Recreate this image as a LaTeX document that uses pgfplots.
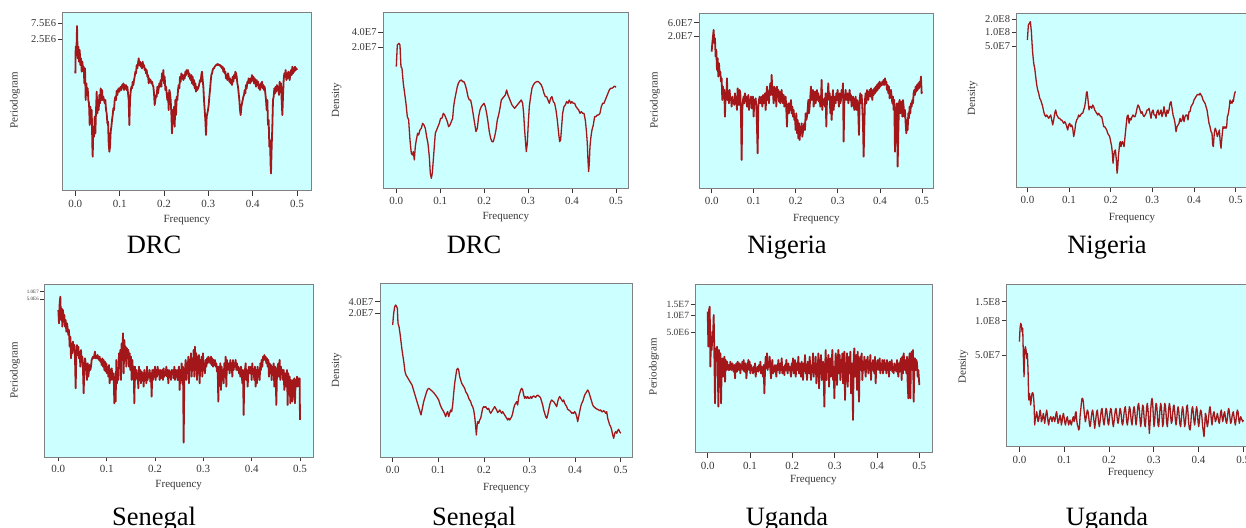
\documentclass[border=0pt]{standalone}
\usepackage{fontspec}
\setmainfont{Liberation Serif}
\usepackage{pgfplots}
\pgfplotsset{compat=1.18}
\definecolor{bgc}{RGB}{204,255,255}
\definecolor{framec}{RGB}{128,128,128}
\definecolor{linec}{RGB}{163,22,26}
\definecolor{txtc}{RGB}{55,55,55}
% y values are read in screen units (log scale of the original, labels kept as printed)
\pgfplotsset{
  panel/.style={
    scale only axis, y dir=reverse,
    axis background/.style={fill=bgc},
    axis line style={draw=framec, line width=0.9pt},
    tick align=outside, xtick pos=bottom, ytick pos=left,
    major tick length=5pt,
    tick style={draw=txtc, line width=0.7pt},
    xticklabels={0.0,0.1,0.2,0.3,0.4,0.5},
    xticklabel style={font=\fontsize{11}{11}\selectfont, text=txtc, inner sep=1.5pt, yshift=-2.5pt},
    yticklabel style={font=\fontsize{10.5}{11}\selectfont, text=txtc, inner sep=1.5pt},
    clip=true,
  },
  pgram/.style={draw=linec, line width=1.8pt, mark=none, line join=round},
  dens/.style={draw=linec, line width=1.3pt, mark=none, line join=round},
}
\begin{document}
\begin{tikzpicture}
\useasboundingbox (0,0) rectangle (1246pt,-527pt);
\clip (0,0) rectangle (1246pt,-527pt);

% ---------- DRC periodogram ----------
\begin{axis}[panel, at={(62.7pt,-12.7pt)}, anchor=north west,
  width=248.3pt, height=178pt, xmin=188, xmax=933, ymin=38, ymax=572,
  xtick={226,359,492,625,758,891},
  ytick={70,117}, yticklabels={7.5E6,2.5E6}]
\addplot[pgram] coordinates {(226,220)(227,140)(229,165)(231,78)(233,175)(235,140)(237,185)(239,150)(241,195)(243,175)(245,215)(247,185)(249,210)(251,200)(253,250)(255,205)(257,300)(259,250)(261,280)(263,265)(265,300)(267,310)(269,375)(271,320)(273,370)(275,330)(277,440)(278,470)(280,380)(282,410)(284,350)(286,400)(288,330)(290,275)(292,340)(294,300)(296,330)(298,285)(300,310)(302,265)(304,300)(306,270)(308,300)(310,290)(312,300)(314,310)(316,300)(318,330)(320,340)(322,370)(324,365)(326,430)(328,455)(330,440)(332,395)(334,380)(336,360)(338,345)(340,325)(342,330)(344,300)(346,290)(348,300)(350,272)(352,285)(354,270)(356,265)(358,275)(360,265)(362,260)(364,270)(366,255)(368,260)(370,250)(372,270)(374,255)(376,265)(378,255)(380,270)(382,260)(384,280)(386,300)(388,375)(390,300)(392,275)(394,260)(396,265)(398,245)(400,255)(402,240)(404,230)(406,215)(408,220)(410,195)(412,205)(414,190)(416,175)(418,195)(420,185)(422,200)(424,190)(426,205)(428,185)(430,200)(432,195)(434,210)(436,205)(438,220)(440,210)(442,230)(444,225)(446,250)(448,235)(450,245)(452,240)(454,250)(456,245)(458,255)(460,260)(462,280)(464,315)(466,300)(468,285)(470,290)(472,260)(474,280)(476,265)(478,250)(480,260)(482,240)(484,260)(486,220)(488,240)(490,210)(492,250)(494,230)(496,270)(498,260)(500,280)(502,300)(504,280)(506,330)(508,270)(510,280)(512,300)(514,340)(516,400)(518,330)(520,370)(522,320)(524,380)(526,300)(528,345)(530,290)(532,300)(534,270)(536,255)(538,265)(540,230)(542,245)(544,220)(546,235)(548,225)(550,240)(552,225)(554,235)(556,215)(558,225)(560,210)(562,220)(564,210)(566,230)(568,220)(570,235)(572,240)(574,225)(576,250)(578,230)(580,255)(582,240)(584,265)(586,250)(588,275)(590,260)(592,270)(594,265)(596,260)(598,250)(600,240)(602,245)(604,225)(606,215)(608,240)(610,260)(612,300)(614,330)(616,360)(618,405)(620,350)(622,340)(624,330)(626,315)(628,290)(630,270)(632,245)(634,225)(636,220)(638,210)(640,205)(642,205)(644,200)(646,198)(648,195)(650,195)(652,192)(654,195)(656,193)(658,196)(660,195)(662,200)(664,198)(666,205)(668,200)(670,215)(672,205)(674,220)(676,215)(678,235)(680,225)(682,240)(684,220)(686,230)(688,245)(690,235)(692,250)(694,240)(696,255)(698,230)(700,245)(702,225)(704,235)(706,215)(708,220)(710,230)(712,250)(714,260)(716,280)(718,300)(720,330)(722,345)(724,320)(726,310)(728,300)(730,290)(732,285)(734,270)(736,280)(738,255)(740,265)(742,245)(744,250)(746,235)(748,240)(750,250)(752,235)(754,245)(756,225)(758,240)(760,230)(762,250)(764,235)(766,245)(768,260)(770,240)(772,255)(774,245)(776,265)(778,255)(780,270)(782,250)(784,260)(786,245)(788,265)(790,255)(792,270)(794,260)(796,280)(798,300)(800,330)(802,300)(804,375)(806,360)(808,440)(810,420)(812,500)(813,520)(815,440)(817,380)(819,300)(821,290)(823,265)(825,280)(827,260)(829,275)(831,255)(833,270)(835,260)(837,285)(839,245)(841,270)(843,250)(845,300)(847,345)(849,290)(851,240)(853,220)(855,230)(857,210)(859,240)(861,220)(863,235)(865,215)(867,225)(869,240)(871,220)(873,210)(875,225)(877,200)(879,220)(881,205)(883,215)(885,200)(887,210)(889,205)(891,210)};
\end{axis}

% ---------- DRC density ----------
\begin{axis}[panel, at={(383.3pt,-12.3pt)}, anchor=north west,
  width=245pt, height=176pt, xmin=190, xmax=925, ymin=37, ymax=565,
  xtick={229,360.8,492.6,624.4,756.2,888},
  ytick={97,142}, yticklabels={4.0E7,2.0E7}]
\addplot[dens] coordinates {(229,200)(232,135)(237,130)(240,135)(243,200)(246,205)(250,250)(254,280)(258,310)(262,350)(266,360)(270,420)(274,460)(277,465)(280,455)(283,480)(286,440)(289,420)(293,400)(296,405)(300,390)(304,385)(308,370)(312,375)(316,385)(320,410)(324,430)(328,470)(331,520)(334,535)(337,520)(340,480)(343,440)(346,400)(350,390)(354,380)(358,370)(362,355)(366,355)(370,340)(374,345)(378,355)(382,365)(386,380)(390,375)(394,365)(398,355)(401,320)(404,300)(408,280)(412,260)(416,248)(420,242)(424,240)(428,245)(432,245)(436,255)(440,270)(444,290)(448,300)(452,300)(456,320)(460,345)(464,370)(468,395)(472,385)(476,350)(480,330)(484,320)(488,315)(492,310)(496,320)(500,340)(504,365)(508,395)(512,415)(516,425)(520,425)(524,410)(528,390)(532,360)(536,345)(540,325)(544,300)(548,295)(552,290)(556,285)(560,270)(564,285)(568,295)(572,305)(576,315)(580,320)(584,325)(588,320)(592,315)(596,310)(600,305)(604,300)(608,310)(611,340)(614,390)(617,430)(619,455)(622,430)(625,370)(628,320)(632,290)(636,265)(640,255)(645,248)(650,245)(655,245)(660,250)(664,255)(668,265)(672,280)(676,290)(680,290)(684,300)(688,310)(692,295)(696,290)(700,305)(704,310)(708,330)(712,360)(716,400)(719,425)(722,420)(725,380)(728,340)(732,320)(736,315)(740,305)(744,310)(748,300)(752,310)(756,305)(760,310)(764,310)(768,320)(772,325)(776,330)(780,340)(784,335)(788,340)(792,340)(796,360)(799,390)(802,430)(804,480)(806,515)(808,490)(810,440)(813,410)(816,390)(820,375)(824,350)(828,350)(832,345)(836,345)(840,340)(844,320)(848,310)(852,310)(856,300)(860,290)(864,280)(868,270)(872,265)(876,265)(880,262)(884,258)(888,262)};
\end{axis}

% ---------- Nigeria periodogram ----------
\begin{axis}[panel, at={(699.3pt,-13.3pt)}, anchor=north west,
  width=234pt, height=175pt, xmin=178, xmax=880, ymin=40, ymax=565,
  xtick={215,341.2,467.4,593.6,719.8,846},
  ytick={68,108}, yticklabels={6.0E7,2.0E7}]
\addplot[pgram] coordinates {(215,155)(217,130)(219,110)(221,90)(223,130)(225,115)(227,170)(229,150)(231,210)(233,175)(235,230)(237,190)(239,220)(241,215)(243,245)(245,235)(247,300)(249,260)(251,280)(253,270)(255,350)(257,280)(259,300)(261,235)(263,300)(265,285)(267,310)(269,270)(271,300)(273,295)(275,320)(277,290)(279,310)(281,300)(283,315)(285,280)(287,305)(289,300)(291,330)(293,265)(295,300)(297,315)(299,270)(301,280)(303,350)(305,480)(307,330)(309,300)(311,290)(313,310)(315,280)(317,300)(319,290)(321,320)(323,305)(325,285)(327,330)(329,300)(331,310)(333,290)(335,325)(337,310)(339,290)(341,350)(343,300)(345,310)(347,295)(349,320)(351,380)(353,460)(355,320)(357,300)(359,290)(361,310)(363,300)(365,290)(367,320)(369,285)(371,310)(373,300)(375,280)(377,330)(379,290)(381,260)(383,300)(385,275)(387,310)(389,270)(391,250)(393,285)(395,225)(397,270)(399,280)(401,310)(403,260)(405,300)(407,265)(409,320)(411,260)(413,290)(415,270)(417,305)(419,275)(421,310)(423,295)(425,270)(427,300)(429,310)(431,285)(433,320)(435,300)(437,290)(439,330)(441,380)(443,320)(445,310)(447,340)(449,310)(451,330)(453,300)(455,340)(457,320)(459,350)(461,330)(463,360)(465,350)(467,390)(469,340)(471,400)(473,360)(475,415)(477,370)(479,420)(481,380)(483,400)(485,370)(487,410)(489,395)(491,380)(493,370)(495,390)(497,340)(499,360)(501,350)(503,330)(505,300)(507,340)(509,320)(511,290)(513,260)(515,300)(517,290)(519,270)(521,320)(523,300)(525,275)(527,310)(529,290)(531,270)(533,300)(535,280)(537,305)(539,290)(541,320)(543,300)(545,240)(547,330)(549,300)(551,310)(553,295)(555,320)(557,280)(559,380)(561,300)(563,290)(565,250)(567,300)(569,280)(571,340)(573,290)(575,360)(577,310)(579,270)(581,330)(583,300)(585,290)(587,310)(589,280)(591,300)(593,270)(595,300)(597,320)(599,280)(601,310)(603,300)(605,270)(607,290)(609,250)(611,425)(613,310)(615,290)(617,270)(619,300)(621,290)(623,280)(625,310)(627,295)(629,270)(631,300)(633,285)(635,320)(637,300)(639,290)(641,310)(643,330)(645,300)(647,290)(649,330)(651,300)(653,310)(655,340)(657,405)(659,300)(661,280)(663,310)(665,285)(667,320)(669,370)(671,470)(673,380)(675,300)(677,280)(679,310)(681,270)(683,290)(685,300)(687,280)(689,270)(691,290)(693,265)(695,280)(697,300)(699,270)(701,285)(703,265)(705,280)(707,260)(709,275)(711,255)(713,270)(715,250)(717,265)(719,245)(721,260)(723,250)(725,255)(727,245)(729,255)(731,240)(733,255)(735,235)(737,250)(739,245)(741,270)(743,255)(745,280)(747,260)(749,295)(751,275)(753,270)(755,290)(757,310)(759,290)(761,330)(763,300)(765,455)(767,370)(769,330)(771,310)(773,500)(775,400)(777,310)(779,300)(781,340)(783,320)(785,305)(787,350)(789,300)(791,320)(793,350)(795,330)(797,370)(799,400)(801,360)(803,390)(805,340)(807,355)(809,320)(811,340)(813,310)(815,320)(817,300)(819,310)(821,280)(823,270)(825,285)(827,260)(829,275)(831,255)(833,270)(835,250)(837,265)(839,245)(841,260)(843,230)(845,280)(846,275)};
\end{axis}

% ---------- Nigeria density ----------
\begin{axis}[panel, at={(1016.7pt,-13.3pt)}, anchor=north west,
  width=231.3pt, height=174pt, xmin=230, xmax=924, ymin=40, ymax=562,
  xtick={262,387,512,637,762,887},
  ytick={57,97,138}, yticklabels={2.0E8,1.0E8,5.0E7}]
\addplot[dens] coordinates {(262,120)(265,75)(268,70)(271,65)(274,95)(276,130)(278,160)(281,190)(284,205)(287,230)(290,255)(293,270)(296,280)(299,295)(302,300)(305,310)(308,320)(311,335)(314,345)(317,350)(320,345)(323,350)(326,355)(329,350)(332,345)(335,360)(338,375)(341,360)(344,340)(347,330)(350,345)(353,350)(356,355)(359,355)(362,360)(365,360)(368,365)(371,370)(374,365)(377,370)(380,380)(383,390)(386,375)(389,370)(392,380)(395,375)(398,385)(401,410)(404,395)(407,370)(410,360)(413,355)(416,345)(419,350)(422,345)(425,340)(428,340)(431,330)(434,320)(437,300)(439,280)(441,275)(443,290)(445,310)(447,330)(449,320)(452,320)(455,325)(458,315)(461,320)(464,330)(467,335)(470,340)(473,345)(476,340)(479,345)(482,350)(485,350)(488,365)(491,380)(494,380)(497,385)(500,390)(503,400)(506,405)(509,410)(512,425)(515,440)(517,460)(519,490)(521,470)(523,455)(526,450)(529,480)(531,520)(533,505)(535,470)(537,450)(539,430)(541,425)(543,440)(545,430)(547,425)(549,430)(552,440)(555,410)(558,380)(561,350)(564,345)(567,370)(570,355)(573,360)(576,350)(579,345)(582,350)(585,350)(588,340)(591,325)(594,315)(597,320)(600,330)(603,340)(606,335)(609,345)(612,350)(615,345)(618,340)(621,330)(624,330)(627,325)(630,340)(633,355)(636,335)(639,330)(642,345)(645,345)(648,355)(651,335)(654,330)(657,345)(660,340)(663,330)(666,350)(669,340)(672,320)(675,340)(678,350)(681,330)(684,340)(687,330)(690,310)(693,305)(696,325)(699,345)(702,355)(705,370)(708,395)(711,380)(714,375)(717,370)(720,355)(723,365)(726,360)(729,345)(732,365)(735,350)(738,345)(741,345)(744,360)(747,335)(750,335)(753,320)(756,315)(759,310)(762,300)(765,295)(768,290)(771,285)(774,283)(777,285)(780,280)(783,285)(786,290)(789,300)(792,305)(795,310)(798,320)(801,330)(804,350)(807,370)(810,380)(813,395)(816,400)(818,435)(820,440)(822,410)(824,390)(826,385)(829,395)(832,410)(835,400)(838,390)(841,430)(843,445)(845,420)(847,400)(849,380)(852,385)(855,380)(858,385)(860,380)(862,350)(864,345)(866,335)(868,320)(870,300)(872,310)(874,305)(876,310)(878,300)(880,305)(882,290)(884,280)(886,275)(887,275)};
\end{axis}

% ---------- Senegal periodogram ----------
\begin{axis}[panel, at={(44pt,-284pt)}, anchor=north west,
  width=269.3pt, height=173.3pt, xmin=132, xmax=940, ymin=42, ymax=562,
  xtick={175,320,465,610,755,900},
  ytick={65,88}, yticklabels={1.0E7,5.0E6},
  yticklabel style={font=\fontsize{5}{5}\selectfont, inner sep=1pt},
  major tick length=4pt]
\addplot[pgram] coordinates {(175,120)(177,160)(179,100)(181,80)(183,150)(185,115)(187,170)(189,120)(191,155)(193,135)(195,170)(197,150)(199,185)(201,160)(203,175)(205,195)(207,180)(209,230)(211,200)(213,265)(215,220)(217,250)(219,215)(221,240)(223,225)(225,265)(227,355)(229,250)(231,225)(233,255)(235,230)(237,265)(239,245)(241,290)(243,240)(245,270)(247,260)(249,300)(251,370)(253,290)(255,265)(257,280)(259,300)(261,330)(263,280)(265,320)(267,300)(269,285)(271,300)(273,290)(275,270)(277,265)(279,260)(281,265)(283,255)(285,245)(287,265)(289,260)(291,265)(293,255)(295,265)(297,270)(299,260)(301,275)(303,270)(305,285)(307,265)(309,290)(311,270)(313,300)(315,275)(317,305)(319,280)(321,310)(323,290)(325,320)(327,285)(329,340)(331,300)(333,330)(335,295)(337,315)(339,330)(341,310)(343,400)(345,320)(347,395)(349,270)(351,340)(353,300)(355,330)(357,250)(359,290)(361,240)(363,330)(365,220)(367,270)(369,190)(371,310)(373,210)(375,245)(377,230)(379,290)(381,235)(383,260)(385,240)(387,290)(389,250)(391,300)(393,260)(395,330)(397,270)(399,310)(401,290)(403,400)(405,290)(407,330)(409,300)(411,320)(413,310)(415,355)(417,290)(419,330)(421,300)(423,340)(425,305)(427,325)(429,310)(431,350)(433,300)(435,330)(437,310)(439,340)(441,290)(443,330)(445,310)(447,320)(449,300)(451,335)(453,310)(455,380)(457,300)(459,330)(461,300)(463,320)(465,290)(467,330)(469,300)(471,320)(473,290)(475,310)(477,300)(479,330)(481,300)(483,325)(485,310)(487,300)(489,330)(491,295)(493,320)(495,305)(497,315)(499,290)(501,320)(503,300)(505,340)(507,300)(509,320)(511,305)(513,330)(515,300)(517,310)(519,300)(521,325)(523,290)(525,330)(527,300)(529,320)(531,300)(533,330)(535,310)(537,290)(539,360)(541,300)(543,330)(545,280)(547,340)(549,290)(551,518)(553,330)(555,300)(557,270)(559,330)(561,280)(563,310)(565,260)(567,340)(569,270)(571,300)(573,250)(575,320)(577,270)(579,300)(581,240)(583,320)(585,230)(587,300)(589,250)(591,330)(593,260)(595,310)(597,255)(599,340)(601,270)(603,300)(605,260)(607,320)(609,250)(611,300)(613,280)(615,310)(617,270)(619,290)(621,265)(623,280)(625,260)(627,275)(629,265)(631,280)(633,260)(635,285)(637,265)(639,290)(641,270)(643,285)(645,270)(647,290)(649,280)(651,305)(653,290)(655,395)(657,290)(659,320)(661,280)(663,360)(665,290)(667,330)(669,300)(671,340)(673,280)(675,320)(677,260)(679,350)(681,270)(683,300)(685,290)(687,280)(689,310)(691,270)(693,300)(695,280)(697,320)(699,270)(701,300)(703,280)(705,290)(707,270)(709,300)(711,280)(713,300)(715,290)(717,310)(719,295)(721,320)(723,290)(725,305)(727,340)(729,300)(731,435)(733,320)(735,300)(737,280)(739,330)(741,300)(743,350)(745,310)(747,290)(749,310)(751,300)(753,290)(755,330)(757,280)(759,310)(761,300)(763,330)(765,290)(767,350)(769,300)(771,340)(773,290)(775,320)(777,300)(779,330)(781,280)(783,300)(785,270)(787,290)(789,260)(791,270)(793,255)(795,270)(797,260)(799,280)(801,265)(803,290)(805,270)(807,320)(809,280)(811,300)(813,285)(815,330)(817,290)(819,310)(821,280)(823,350)(825,290)(827,300)(829,405)(831,310)(833,290)(835,280)(837,320)(839,270)(841,330)(843,290)(845,310)(847,300)(849,330)(851,300)(853,360)(855,310)(857,330)(859,350)(861,300)(863,405)(865,310)(867,370)(869,320)(871,400)(873,330)(875,350)(877,395)(879,330)(881,380)(883,325)(885,400)(887,330)(889,350)(891,320)(893,350)(895,325)(897,340)(899,325)(900,450)};
\end{axis}

% ---------- Senegal density ----------
\begin{axis}[panel, at={(380pt,-283.3pt)}, anchor=north west,
  width=252.7pt, height=174pt, xmin=180, xmax=938, ymin=40, ymax=562,
  xtick={218,354.8,491.6,628.4,765.2,902},
  ytick={95,130}, yticklabels={4.0E7,2.0E7}]
\addplot[dens] coordinates {(218,165)(221,130)(224,110)(227,105)(230,110)(232,115)(234,160)(237,170)(240,190)(243,215)(246,240)(249,260)(252,280)(255,305)(258,315)(261,320)(264,325)(267,330)(270,335)(273,340)(276,345)(279,355)(282,365)(285,375)(288,385)(291,395)(294,405)(297,415)(300,425)(303,435)(305,425)(308,410)(311,395)(314,385)(317,375)(320,365)(323,358)(326,355)(329,357)(332,360)(335,362)(338,365)(341,368)(344,372)(347,376)(350,380)(353,385)(356,390)(359,400)(362,408)(365,415)(368,420)(371,425)(374,432)(377,440)(380,430)(383,425)(386,440)(389,430)(392,420)(395,425)(398,405)(401,370)(404,340)(407,320)(410,300)(413,295)(416,300)(419,320)(422,330)(425,340)(428,345)(431,350)(434,355)(437,365)(440,370)(443,375)(446,385)(449,390)(452,395)(455,405)(458,410)(461,420)(464,440)(467,470)(469,495)(471,470)(473,455)(476,460)(479,450)(482,445)(485,430)(488,415)(491,410)(494,412)(497,410)(500,415)(503,418)(506,415)(509,425)(512,430)(515,425)(518,420)(521,415)(524,410)(527,415)(530,420)(533,428)(536,425)(539,420)(542,425)(545,430)(548,425)(551,430)(554,435)(557,440)(560,445)(563,450)(566,445)(569,450)(572,445)(575,440)(578,430)(581,415)(584,405)(587,400)(590,395)(593,405)(596,380)(599,370)(602,360)(605,355)(608,360)(611,375)(614,385)(617,380)(620,385)(623,380)(626,385)(629,385)(632,380)(635,385)(638,380)(641,378)(644,380)(647,382)(650,378)(653,375)(656,378)(659,380)(662,385)(665,395)(668,405)(671,420)(674,430)(677,440)(680,445)(683,435)(686,420)(689,405)(692,395)(695,390)(698,393)(701,395)(704,400)(707,405)(710,410)(713,395)(716,385)(719,380)(722,385)(725,390)(728,395)(731,390)(734,400)(737,405)(740,410)(743,418)(746,420)(749,422)(752,425)(755,430)(758,428)(761,430)(764,425)(767,430)(770,440)(773,455)(776,440)(779,425)(782,410)(785,400)(788,395)(791,385)(794,375)(797,370)(800,365)(803,360)(806,365)(809,375)(812,385)(815,395)(818,405)(821,410)(824,412)(827,415)(830,417)(833,418)(836,420)(839,422)(842,420)(845,425)(848,425)(851,422)(854,425)(857,430)(860,425)(863,445)(866,455)(869,465)(872,470)(875,480)(878,495)(881,505)(884,490)(887,485)(890,490)(893,482)(896,478)(899,485)(902,490)};
\end{axis}

% ---------- Uganda periodogram ----------
\begin{axis}[panel, at={(695.7pt,-284pt)}, anchor=north west,
  width=236.3pt, height=168.7pt, xmin=167, xmax=876, ymin=42, ymax=548,
  xtick={203,330,457,584,711,838},
  ytick={104,136,187}, yticklabels={1.5E7,1.0E7,5.0E6},
  yticklabel style={font=\fontsize{9.5}{10}\selectfont}]
\addplot[pgram] coordinates {(203,125)(205,230)(207,120)(209,110)(211,290)(213,200)(215,240)(217,185)(219,200)(221,135)(223,260)(225,400)(227,235)(229,255)(231,230)(233,280)(235,410)(237,240)(239,300)(241,250)(243,400)(245,290)(247,265)(249,320)(251,280)(253,260)(255,335)(257,270)(259,300)(261,275)(263,290)(265,300)(267,285)(269,300)(271,275)(273,290)(275,300)(277,280)(279,295)(281,305)(283,285)(285,325)(287,290)(289,280)(291,305)(293,275)(295,290)(297,300)(299,280)(301,310)(303,285)(305,295)(307,275)(309,300)(311,270)(313,305)(315,290)(317,280)(319,325)(321,300)(323,290)(325,270)(327,300)(329,275)(331,310)(333,285)(335,300)(337,295)(339,310)(341,290)(343,305)(345,280)(347,320)(349,295)(351,300)(353,290)(355,305)(357,285)(359,300)(361,275)(363,310)(365,290)(367,300)(369,320)(371,285)(373,370)(375,300)(377,260)(379,295)(381,250)(383,300)(385,275)(387,290)(389,260)(391,300)(393,325)(395,285)(397,270)(399,310)(401,290)(403,305)(405,285)(407,300)(409,320)(411,285)(413,300)(415,270)(417,295)(419,310)(421,280)(423,300)(425,265)(427,310)(429,290)(431,300)(433,315)(435,285)(437,300)(439,270)(441,300)(443,310)(445,280)(447,300)(449,290)(451,305)(453,320)(455,280)(457,300)(459,265)(461,310)(463,295)(465,270)(467,320)(469,295)(471,280)(473,300)(475,260)(477,310)(479,280)(481,300)(483,320)(485,275)(487,295)(489,330)(491,280)(493,300)(495,255)(497,310)(499,285)(501,330)(503,275)(505,295)(507,310)(509,260)(511,300)(513,330)(515,285)(517,295)(519,250)(521,320)(523,280)(525,300)(527,260)(529,340)(531,290)(533,310)(535,250)(537,355)(539,270)(541,290)(543,255)(545,330)(547,295)(549,275)(551,310)(553,410)(555,300)(557,240)(559,330)(561,270)(563,290)(565,255)(567,350)(569,290)(571,265)(573,320)(575,280)(577,240)(579,330)(581,290)(583,385)(585,300)(587,250)(589,280)(591,345)(593,280)(595,240)(597,310)(599,255)(601,330)(603,270)(605,300)(607,250)(609,340)(611,265)(613,245)(615,390)(617,280)(619,300)(621,250)(623,350)(625,290)(627,260)(629,310)(631,245)(633,370)(635,280)(637,300)(639,450)(641,260)(643,235)(645,320)(647,270)(649,255)(651,360)(653,245)(655,300)(657,395)(659,270)(661,260)(663,300)(665,250)(667,330)(669,280)(671,300)(673,260)(675,290)(677,320)(679,270)(681,295)(683,260)(685,310)(687,280)(689,300)(691,255)(693,330)(695,280)(697,300)(699,270)(701,295)(703,310)(705,260)(707,340)(709,280)(711,300)(713,270)(715,290)(717,300)(719,265)(721,310)(723,285)(725,300)(727,270)(729,310)(731,290)(733,270)(735,300)(737,280)(739,310)(741,270)(743,300)(745,280)(747,320)(749,275)(751,300)(753,290)(755,270)(757,305)(759,290)(761,310)(763,280)(765,300)(767,285)(769,305)(771,270)(773,300)(775,320)(777,280)(779,305)(781,275)(783,265)(785,330)(787,260)(789,310)(791,250)(793,280)(795,300)(797,270)(799,310)(801,260)(803,340)(805,385)(807,270)(809,250)(811,385)(813,270)(815,245)(817,300)(819,240)(821,395)(823,290)(825,265)(827,300)(829,270)(831,280)(833,320)(835,300)(837,330)(838,345)};
\end{axis}

% ---------- Uganda density ----------
\begin{axis}[panel, at={(1006.7pt,-284pt)}, anchor=north west,
  width=241.3pt, height=162.7pt, xmin=200, xmax=924, ymin=42, ymax=530,
  xtick={238,372.3,506.6,640.9,775.2,909.5},
  ytick={95,152,255}, yticklabels={1.5E8,1.0E8,5.0E7}]
\addplot[dens] coordinates {(238,215)(240,175)(242,160)(244,165)(246,185)(248,175)(250,260)(252,320)(254,240)(256,230)(258,240)(260,265)(262,250)(264,300)(266,390)(268,370)(270,380)(272,405)(274,385)(276,370)(278,368)(280,375)(282,400)(284,465)(286,445)(288,440)(290,425)(292,440)(294,455)(296,450)(298,435)(300,420)(302,430)(304,455)(306,450)(308,440)(310,430)(312,445)(314,460)(316,445)(318,430)(320,420)(322,435)(324,455)(326,465)(328,450)(330,445)(332,440)(334,445)(336,455)(338,445)(340,440)(342,445)(344,455)(346,445)(348,430)(350,425)(352,445)(354,460)(356,455)(358,445)(360,435)(362,445)(364,465)(366,455)(368,440)(370,430)(372,440)(374,455)(376,465)(378,455)(380,445)(382,440)(384,455)(386,465)(388,455)(390,450)(392,460)(394,465)(396,455)(398,445)(400,440)(402,455)(404,450)(406,430)(408,425)(410,450)(412,465)(414,470)(416,480)(418,475)(420,440)(422,420)(424,400)(426,385)(428,385)(430,395)(432,420)(434,440)(436,455)(438,445)(440,430)(442,420)(444,425)(446,440)(448,460)(450,470)(452,460)(454,440)(456,425)(458,420)(460,435)(462,455)(464,475)(466,460)(468,440)(470,425)(472,420)(474,440)(476,460)(478,470)(480,455)(482,435)(484,420)(486,415)(488,435)(490,455)(492,465)(494,450)(496,430)(498,415)(500,420)(502,440)(504,460)(506,465)(508,445)(510,425)(512,415)(514,420)(516,440)(518,460)(520,470)(522,455)(524,435)(526,420)(528,415)(530,430)(532,450)(534,460)(536,450)(538,430)(540,415)(542,420)(544,440)(546,460)(548,465)(550,450)(552,430)(554,415)(556,410)(558,430)(560,455)(562,465)(564,450)(566,430)(568,410)(570,415)(572,435)(574,455)(576,465)(578,445)(580,420)(582,410)(584,420)(586,445)(588,465)(590,450)(592,425)(594,405)(596,400)(598,420)(600,450)(602,470)(604,455)(606,425)(608,405)(610,410)(612,440)(614,465)(616,470)(618,440)(620,410)(622,400)(624,420)(626,455)(628,490)(630,460)(632,420)(634,395)(636,385)(638,400)(640,440)(642,470)(644,455)(646,420)(648,400)(650,405)(652,435)(654,465)(656,470)(658,445)(660,415)(662,400)(664,410)(666,440)(668,470)(670,460)(672,425)(674,400)(676,405)(678,430)(680,460)(682,470)(684,445)(686,415)(688,400)(690,410)(692,440)(694,460)(696,455)(698,430)(700,410)(702,405)(704,425)(706,450)(708,465)(710,450)(712,425)(714,410)(716,420)(718,445)(720,465)(722,470)(724,445)(726,420)(728,410)(730,425)(732,450)(734,470)(736,460)(738,435)(740,410)(742,405)(744,430)(746,460)(748,475)(750,480)(752,465)(754,435)(756,415)(758,410)(760,430)(762,455)(764,465)(766,445)(768,420)(770,410)(772,425)(774,455)(776,470)(778,455)(780,430)(782,420)(784,425)(786,445)(788,470)(790,485)(792,500)(794,470)(796,430)(798,435)(800,455)(802,470)(804,460)(806,440)(808,420)(810,410)(812,425)(814,450)(816,465)(818,445)(820,430)(822,425)(824,440)(826,455)(828,450)(830,440)(832,430)(834,440)(836,455)(838,460)(840,445)(842,425)(844,420)(846,440)(848,455)(850,445)(852,430)(854,425)(856,440)(858,455)(860,460)(862,445)(864,425)(866,415)(868,425)(870,445)(872,460)(874,455)(876,440)(878,430)(880,425)(882,440)(884,455)(886,465)(888,450)(890,430)(892,420)(894,425)(896,445)(898,460)(900,450)(902,440)(904,445)(906,450)(908,455)(910,450)};
\end{axis}

% axis titles
\begin{scope}[every node/.style={font=\fontsize{11}{12}\selectfont, text=txtc}]
\node at (186.8pt,-220pt) {Frequency};
\node at (505.8pt,-217pt) {Frequency};
\node at (816.3pt,-219pt) {Frequency};
\node at (1132pt,-218pt) {Frequency};
\node at (178.7pt,-485pt) {Frequency};
\node at (506.3pt,-488pt) {Frequency};
\node at (813.3pt,-480pt) {Frequency};
\node at (1131pt,-473pt) {Frequency};
\node[rotate=90] at (15pt,-100pt) {Periodogram};
\node[rotate=90] at (336.7pt,-100pt) {Density};
\node[rotate=90] at (655pt,-100pt) {Periodogram};
\node[rotate=90] at (972.7pt,-98pt) {Density};
\node[rotate=90] at (15pt,-370pt) {Periodogram};
\node[rotate=90] at (336.7pt,-370pt) {Density};
\node[rotate=90] at (654pt,-366.7pt) {Periodogram};
\node[rotate=90] at (963.3pt,-366.7pt) {Density};
\end{scope}

% panel captions
\begin{scope}[every node/.style={anchor=base, font=\fontsize{26.5}{28}\selectfont}]
\node at (154pt,-253pt) {DRC};
\node at (474pt,-253pt) {DRC};
\node at (787pt,-253pt) {Nigeria};
\node at (1107pt,-253pt) {Nigeria};
\node at (154pt,-525pt) {Senegal};
\node at (474pt,-525pt) {Senegal};
\node at (787pt,-525pt) {Uganda};
\node at (1107pt,-525pt) {Uganda};
\end{scope}
\end{tikzpicture}
\end{document}
